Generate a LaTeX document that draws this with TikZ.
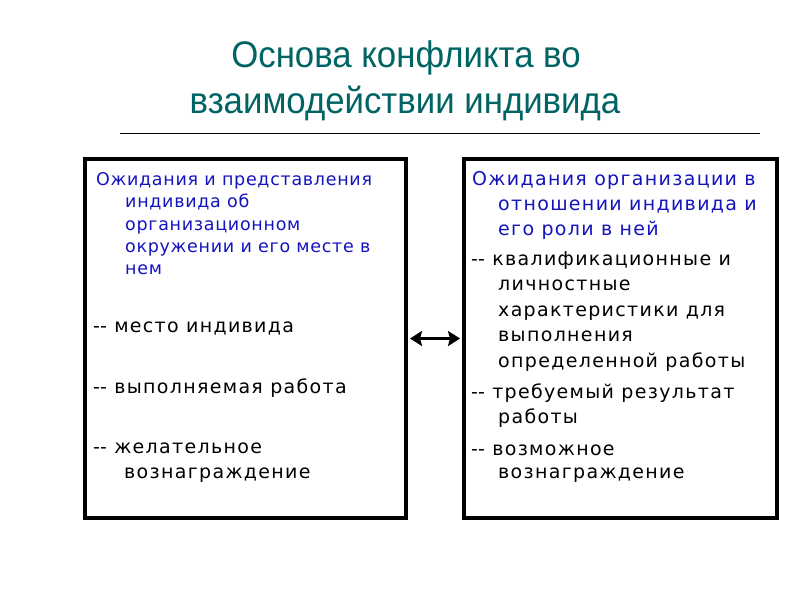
\documentclass[tikz,border=0pt]{standalone}
\usepackage{fontspec}
\setmainfont{DejaVu Sans}
\newfontfamily\leftfont[LetterSpace=4]{DejaVu Sans}
\newfontfamily\rightfont[LetterSpace=7]{DejaVu Sans}
\newfontfamily\titlefont[FakeStretch=0.94]{Liberation Sans}
\usetikzlibrary{arrows.meta}
\definecolor{titleteal}{RGB}{0,100,100}
\definecolor{headblue}{RGB}{20,20,190}
\newcommand\dd{-\kern0pt-}
\tikzset{
  txt/.style={anchor=base west, inner sep=0pt, font=\leftfont\fontsize{17.5}{17.5}\selectfont},
  head/.style={txt, text=headblue},
  rtxt/.style={anchor=base west, inner sep=0pt, font=\rightfont\fontsize{19}{19}\selectfont},
  rhead/.style={rtxt, text=headblue},
  ttl/.style={anchor=base, inner sep=0pt, text=titleteal, font=\titlefont\fontsize{37}{37}\selectfont},
  frame/.style={draw, line width=4pt, inner sep=0pt, minimum height=359pt},
  link/.style={<->, >={Stealth[length=12pt,width=15pt,inset=2pt]}, line width=3pt, shorten >=2pt, shorten <=2pt}
}
\begin{document}
\begin{tikzpicture}[x=1pt,y=-1pt]
\useasboundingbox[fill=white] (0,0) rectangle (800,600);
% title
\node[ttl] (t1) at (406,67) {Основа конфликта во};
\node[ttl] (t2) at (405,113) {взаимодействии индивида};
\coordinate (ruleA) at (120,133);
\coordinate (ruleB) at (760,133);
\draw[line width=1pt] (ruleA) -- (ruleB);
% boxes
\node[frame, minimum width=321pt] (L) at (245.5,338.5) {};
\node[frame, minimum width=313pt] (R) at (620.5,338.5) {};
\draw[link] (L.east) -- (R.west);
% left text
\node[head] (l1) at (96,185) {Ожидания и представления};
\node[head] (l2) at (125,207) {индивида об};
\node[head] (l3) at (125,230) {организационном};
\node[head] (l4) at (125,252) {окружении и его месте в};
\node[head] (l5) at (125,274) {нем};
\node[rtxt] (l6) at (93,332) {\dd{} место индивида};
\node[rtxt] (l7) at (93,393) {\dd{} выполняемая работа};
\node[rtxt] (l8) at (93,453) {\dd{} желательное};
\node[rtxt] (l9) at (124,478) {вознаграждение};
% right text
\node[rhead] (r1) at (472,185) {Ожидания организации в};
\node[rhead] (r2) at (498,210) {отношении индивида и};
\node[rhead] (r3) at (498,235) {его роли в ней};
\node[rtxt] (r4) at (471,265) {\dd{} квалификационные и};
\node[rtxt] (r5) at (498,290) {личностные};
\node[rtxt] (r6) at (498,316) {характеристики для};
\node[rtxt] (r7) at (498,341) {выполнения};
\node[rtxt] (r8) at (498,367) {определенной работы};
\node[rtxt] (r9) at (471,398) {\dd{} требуемый результат};
\node[rtxt] (r10) at (498,423) {работы};
\node[rtxt] (r11) at (471,455) {\dd{} возможное};
\node[rtxt] (r12) at (498,478) {вознаграждение};
\end{tikzpicture}
\end{document}
